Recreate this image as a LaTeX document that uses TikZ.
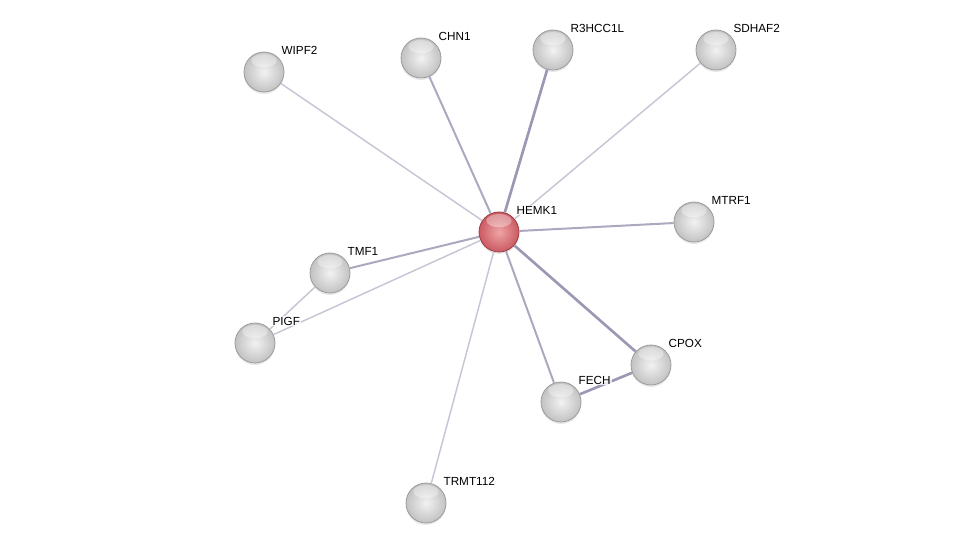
\documentclass[tikz,border=0pt]{standalone}
\usepackage{fontspec}
\setmainfont{Liberation Sans}
\usetikzlibrary{positioning,shadings,shadows}
\definecolor{edgepale}{HTML}{C8C5D5}
\definecolor{edgedeep}{HTML}{9C98B4}
\definecolor{ballin}{HTML}{F2F2F2}
\definecolor{ballout}{HTML}{C2C2C2}
\definecolor{ballrim}{HTML}{9C9C9C}
\definecolor{redin}{HTML}{EFA4A6}
\definecolor{redout}{HTML}{CA5A62}
\definecolor{redrim}{HTML}{9E3C44}

\tikzset{
  protein/.style={circle, minimum size=30pt, inner sep=0pt, inner color=ballin, outer color=ballout,
    draw=ballrim, line width=0.6pt,
    drop shadow={opacity=0.18, shadow xshift=0pt, shadow yshift=-1.5pt},
    path picture={\fill[white, opacity=0.35]
      ([yshift=-6.5pt]path picture bounding box.north) ellipse (9.5pt and 5pt);}},
  query/.style={protein, inner color=redin, outer color=redout, draw=redrim},
  plabel/.style={anchor=west, inner sep=1pt, fill=white, fill opacity=0.75, text opacity=1,
    font=\fontsize{8.8}{10}\selectfont},
  edgethin/.style={edgepale, line width=1.1pt},
  edgemid/.style={edgedeep!85!white, line width=1.5pt},
  edgethick/.style={edgedeep, line width=2pt}
}

\begin{document}
\begin{tikzpicture}[x=0.75pt, y=-0.75pt]
\useasboundingbox (0,0) rectangle (975,548);

% Proteins (positions in pixels)
\node[query] (HEMK1) at (499,232) {};
\foreach \p/\x/\y in {WIPF2/264/72, CHN1/421/58, R3HCC1L/553/50, SDHAF2/716/50,
    MTRF1/694/222, TMF1/330/273, PIGF/255/343, CPOX/651/365, FECH/561/402, TRMT112/426/503} {
    \node[protein] (\p) at (\x,\y) {};
}

% Interactions
\foreach \t/\s in {WIPF2/edgethin, CHN1/edgemid, R3HCC1L/edgethick, SDHAF2/edgethin,
    MTRF1/edgemid, TMF1/edgemid, PIGF/edgethin, CPOX/edgethick, FECH/edgemid, TRMT112/edgethin} {
    \draw[\s] (HEMK1) -- (\t);
}
\draw[edgethin] (TMF1) -- (PIGF);
\draw[edgethick] (FECH) -- (CPOX);

% Labels
\foreach \p in {HEMK1, WIPF2, CHN1, R3HCC1L, SDHAF2, MTRF1, TMF1, PIGF, CPOX, FECH, TRMT112} {
    \node[plabel] (\p-lab) at ([shift={(16,-22)}]\p.center) {\p};
}

\end{tikzpicture}
\end{document}
